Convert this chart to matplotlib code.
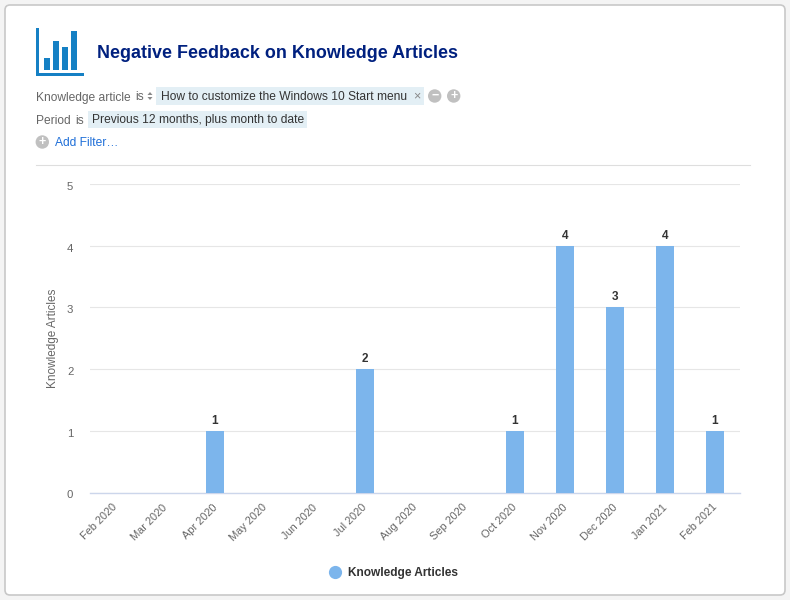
import matplotlib
matplotlib.use("Agg")
import numpy as np
import matplotlib.pyplot as plt
from matplotlib.patches import FancyBboxPatch, Rectangle, Circle, Polygon
from matplotlib.lines import Line2D
from matplotlib.transforms import ScaledTranslation

plt.rcParams['font.family'] = ['Liberation Sans', 'DejaVu Sans']

months = ["Feb 2020", "Mar 2020", "Apr 2020", "May 2020", "Jun 2020", "Jul 2020", "Aug 2020",
          "Sep 2020", "Oct 2020", "Nov 2020", "Dec 2020", "Jan 2021", "Feb 2021"]
counts = [0, 0, 1, 0, 0, 2, 0, 0, 1, 4, 3, 4, 1]
y_ticks = [0, 1, 2, 3, 4, 5]

W, H = 790, 600
BAR_COLOR = "#7cb5ec"
TEXT_GREY = "#666666"
FILTER_SIZE = 8.65

fig = plt.figure(figsize=(W / 100, H / 100), dpi=100, facecolor="#f4f4f4")

# page furniture, in pixel coords
bg = fig.add_axes([0, 0, 1, 1], zorder=0)
bg.set_xlim(0, W)
bg.set_ylim(H, 0)
bg.axis("off")

bg.add_patch(FancyBboxPatch((5, 5), 780, 590, boxstyle="round,pad=0,rounding_size=5",
                            fc="white", ec="#c8c8c8", lw=1.2))

# icon
bg.add_patch(Rectangle((36.3, 28), 2.7, 48, fc="#1580c4", ec="none"))
bg.add_patch(Rectangle((36.3, 72.8), 48, 3.2, fc="#1580c4", ec="none"))
for bx, btop in zip([44.3, 53.3, 62.3, 71.3], [58, 41, 46.7, 31]):
    bg.add_patch(Rectangle((bx, btop), 6, 70 - btop, fc="#1580c4", ec="none"))

bg.text(97, 53.5, "Negative Feedback on Knowledge Articles", fontsize=12.9, fontweight="bold",
        color="#00207f", va="center", ha="left")

# filters
bg.text(36, 97.5, "Knowledge article", fontsize=FILTER_SIZE, color=TEXT_GREY, va="center")
bg.text(135, 97.5, "is", fontsize=FILTER_SIZE, color=TEXT_GREY, va="center")
bg.add_patch(Polygon([[147.5, 95], [152.5, 95], [150, 92]], fc="#888888", ec="none"))
bg.add_patch(Polygon([[147.5, 97], [152.5, 97], [150, 100]], fc="#888888", ec="none"))
bg.add_patch(Rectangle((156.3, 87.3), 267.7, 18, fc="#e3eff5", ec="none"))
bg.text(161, 97.5, "How to customize the Windows 10 Start menu", fontsize=FILTER_SIZE, color="#333333", va="center")
bg.text(416.5, 96.5, "\u00d7", fontsize=9, color="#888888", va="center", ha="center")
bg.add_patch(Circle((434.7, 96), 6.7, fc="#c0c0c0", ec="none"))
bg.text(434.7, 95.5, "\u2212", fontsize=9, fontweight="bold", color="white", va="center", ha="center")
bg.add_patch(Circle((453.7, 96), 6.7, fc="#c0c0c0", ec="none"))
bg.text(453.7, 95.5, "+", fontsize=9, fontweight="bold", color="white", va="center", ha="center")

bg.text(36, 120.5, "Period", fontsize=FILTER_SIZE, color=TEXT_GREY, va="center")
bg.text(75.5, 120.5, "is", fontsize=FILTER_SIZE, color=TEXT_GREY, va="center")
bg.add_patch(Rectangle((87.7, 110.7), 219, 17.5, fc="#e3eff5", ec="none"))
bg.text(91.5, 120.5, "Previous 12 months, plus month to date", fontsize=FILTER_SIZE, color="#333333", va="center")

bg.add_patch(Circle((42.3, 142), 6.7, fc="#c0c0c0", ec="none"))
bg.text(42.3, 141.5, "+", fontsize=9, fontweight="bold", color="white", va="center", ha="center")
bg.text(54.7, 143.5, "Add Filter\u2026", fontsize=FILTER_SIZE, color="#1f6fd8", va="center")

bg.add_line(Line2D([36, 750], [164.5, 164.5], color="#dedede", lw=0.8))

# chart
left, right, top, bottom = 90, 740, 184, 492.5
ax = fig.add_axes([left / W, 1 - bottom / H, (right - left) / W, (bottom - top) / H], zorder=1)
ax.patch.set_alpha(0)

x = np.arange(len(months))
bars = ax.bar(x, counts, width=0.36, color=BAR_COLOR, zorder=3)
for xi, c in zip(x, counts):
    if c > 0:
        ax.annotate(str(c), (xi, c), xytext=(0, 3), textcoords="offset points", ha="center", va="bottom",
                    fontsize=8.5, fontweight="bold", color="#333333")

ax.set_xlim(-0.5, len(months) - 0.5)
ax.set_ylim(0, 5)
ax.set_yticks(y_ticks)
ax.set_xticks(x)
ax.set_xticklabels(months, rotation=45, ha="right", rotation_mode="anchor", fontsize=7.9, color=TEXT_GREY)
ax.tick_params(axis="x", length=0, pad=7)
ax.tick_params(axis="y", length=0, pad=12, labelsize=8.2, labelcolor=TEXT_GREY)

# nudge tick labels to where the reference has them
x_shift = ScaledTranslation(-3 / 100, 0, fig.dpi_scale_trans)
for lab in ax.get_xticklabels():
    lab.set_transform(lab.get_transform() + x_shift)
y_shift = ScaledTranslation(0, -2 / 100, fig.dpi_scale_trans)
for lab in ax.get_yticklabels():
    lab.set_transform(lab.get_transform() + y_shift)

ax.grid(axis="y", color="#e6e6e6", lw=0.8, zorder=0)
ax.set_axisbelow(True)
for side in ["top", "right", "left"]:
    ax.spines[side].set_visible(False)
ax.spines["bottom"].set_color("#ccd6eb")
ax.spines["bottom"].set_linewidth(1)
ax.set_ylabel("Knowledge Articles", fontsize=8.5, color=TEXT_GREY, labelpad=6)

handle = Line2D([], [], marker="o", linestyle="none", markersize=9.5, color=BAR_COLOR, markeredgewidth=0)
fig.legend([handle], ["Knowledge Articles"], loc="center", bbox_to_anchor=(390.5 / W, 1 - 573 / H),
           frameon=False, handletextpad=0.1, prop={"size": 8.6, "weight": "bold"}, labelcolor="#333333")

fig.savefig("out.png", dpi=100, facecolor=fig.get_facecolor())
